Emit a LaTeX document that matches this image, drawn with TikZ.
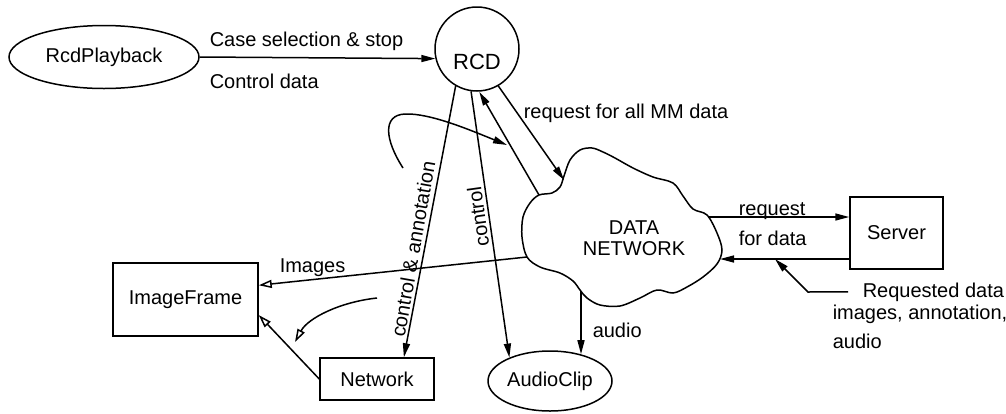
\documentclass[tikz,border=0pt]{standalone}
\usepackage{fontspec}
\setmainfont{Liberation Sans}
\usetikzlibrary{arrows.meta,shapes.geometric}

\begin{document}
\begin{tikzpicture}[x=1pt,y=-1pt,
  every node/.style={font=\fontsize{20}{21}\selectfont},
  line width=1.5pt,
  arr/.style={-{Triangle[length=14pt,width=7pt]}},
  oarr/.style={-{Triangle[open,length=13pt,width=8pt,fill=white]}},
  box/.style={draw, rectangle},
  oval/.style={draw, ellipse, inner sep=0pt},
  lbl/.style={inner sep=1pt, anchor=base west},
]
\useasboundingbox (0,0) rectangle (1006,413);

% processes and stores
\node[oval, minimum width=190pt, minimum height=63pt] (play) at (104,57) {RcdPlayback};
\node[draw, circle, minimum size=84pt,
      label={[yshift=-13pt, font=\fontsize{22}{24}\selectfont]center:RCD}] (rcd) at (477,49) {};
\node[box, minimum width=145pt, minimum height=73pt] (imf) at (185.5,299.5) {ImageFrame};
\node[box, minimum width=114pt, minimum height=42pt] (net) at (377,379) {Network};
\node[box, minimum width=93pt, minimum height=72pt] (srv) at (896.5,233) {Server};
\node[oval, minimum width=124pt, minimum height=60pt] (aclip) at (550,381) {AudioClip};

% the data network cloud
\draw plot[smooth cycle, tension=0.55] coordinates {
  (539,195) (552,193) (560,187) (564,176) (570,160) (580,150) (592,148)
  (603,152) (615,158) (633,168) (653,177) (673,183) (683,196) (693,209)
  (707,215) (717,233) (722,250) (717,264) (703,277) (687,287) (673,293)
  (657,290) (640,298) (620,306) (600,305) (587,298) (580,290) (573,281)
  (560,273) (540,267) (527,257) (522,237) (523,217) (530,203)};
\node[align=center] (dn) at (634,238) {DATA\\NETWORK};

% points on the cloud outline and free ends
\coordinate (c-rcdin) at (539,195);
\coordinate (c-mm) at (564,180);
\coordinate (c-img) at (527,257);
\coordinate (c-audio) at (581,291);
\coordinate (c-req) at (708,217);
\coordinate (c-srv) at (720,259);
\coordinate (loopA) at (403,168);
\coordinate (loopB) at (507,145);
\coordinate (curvA) at (377,298);
\coordinate (curvB) at (295,342);
\coordinate (rq-bend) at (808,292);
\coordinate (rq-tip) at (775,259);

% connectors
\draw[arr] (play.east) -- (rcd.-167);
\draw[arr] (rcd.-120) -- (net.39);
\draw[arr] (rcd.-98) -- (aclip.150);
\draw[arr] (c-rcdin) -- (rcd.-87);
\draw[arr] (rcd.-60) -- (c-mm);
\draw[arr] (loopA) .. controls (385,140) and (382,115) .. (405,114)
                   .. controls (430,113) and (470,130) .. (loopB);
\draw[oarr] (c-img) -- (imf.11);
\draw[oarr] (net.west) -- (imf.-12);
\draw[oarr] (curvA) .. controls (340,302) and (308,318) .. (curvB);
\draw[arr] (c-audio) -- (c-audio |- aclip.41);
\draw[arr] (c-req) -- (c-req -| srv.west);
\draw[arr] (srv.west |- c-srv) -- (c-srv);

% labels
\node[lbl] (l-case) at (208,46) {Case selection \& stop};
\node[lbl] (l-ctrl) at (208,88) {Control data};
\node[lbl] (l-mm) at (522,118) {request for all MM data};
\node[rotate=80, inner sep=1pt] (l-ca) at (413,249) {control \& annotation};
\node[rotate=98, inner sep=1pt] (l-c) at (478,217) {control};
\node[lbl] (l-img) at (278,272) {Images};
\node[lbl] (l-aud) at (591,337) {audio};
\node[lbl] (l-req) at (737,215) {request};
\node[lbl] (l-fd) at (737,245) {for data};
\node[lbl, inner xsep=14pt] (rqd) at (848,297) {Requested data};
\node[lbl] (l-ia) at (831,319) {images, annotation,};
\node[lbl] (l-au2) at (831,348) {audio};

\draw[arr] (rqd.west) -- (rq-bend) -- (rq-tip);
\end{tikzpicture}
\end{document}
